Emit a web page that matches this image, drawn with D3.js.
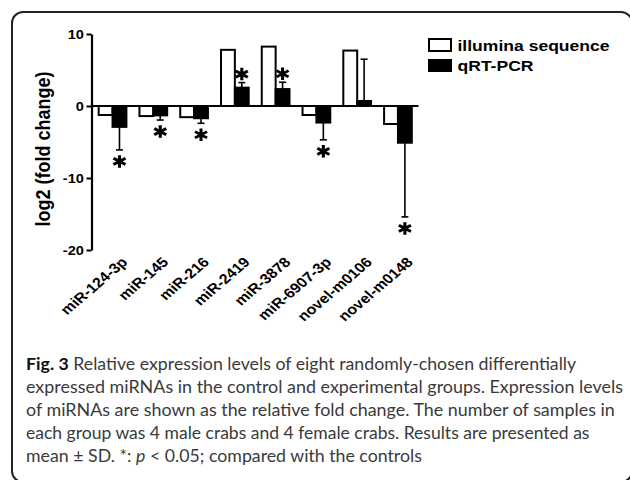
<!DOCTYPE html>
<html><head><meta charset="utf-8">
<script src="https://cdn.jsdelivr.net/npm/d3@7"></script>
<style>body{margin:0;background:#fff}svg{display:block}</style>
</head><body>
<svg id="c" width="630" height="480"></svg>
<script>
// ---- data ----
const categories = ["miR-124-3p","miR-145","miR-216","miR-2419","miR-3878","miR-6907-3p","novel-m0106","novel-m0148"];
const seriesNames = ["illumina sequence","qRT-PCR"];
const illuminaValues = [-1.25,-1.4,-1.55,7.8,8.25,-1.25,7.7,-2.5];
const qpcrValues = [-2.9,-1.3,-1.7,2.55,2.35,-2.3,0.7,-5.1];
const qpcrSD = [3.2,0.65,0.7,0.7,0.95,2.4,5.8,10.3];
const significant = [true,true,true,true,true,true,false,true];
const yTicks = [10,0,-10,-20];
const yLabel = "log2 (fold change)";
const captionLines = [
  [{t:"Fig. 3", b:true},{t:" Relative expression levels of eight randomly-chosen differentially"}],
  [{t:"expressed miRNAs in the control and experimental groups. Expression levels"}],
  [{t:"of miRNAs are shown as the relative fold change. The number of samples in"}],
  [{t:"each group was 4 male crabs and 4 female crabs. Results are presented as"}],
  [{t:"mean \u00b1 SD. *: "},{t:"p", i:true},{t:" < 0.05; compared with the controls"}]
];

// ---- layout ----
const SX = 1.17;                 // horizontal stretch of the original figure
const svg = d3.select("#c");
const chartFont = "'Liberation Sans', Arial, Helvetica, sans-serif";

// frame
svg.append("rect").attr("x",12).attr("y",12).attr("width",620).attr("height",470)
  .attr("rx",11).attr("fill","none").attr("stroke","#222").attr("stroke-width",2);

const x0 = d3.scaleBand().domain(categories).range([91.5, 419]).paddingInner(0.32).paddingOuter(0.176);
const x1 = d3.scaleBand().domain(seriesNames).range([0, x0.bandwidth()]);
const y = d3.scaleLinear().domain([-20, 10]).range([250, 34]);

const data = categories.map((c,i)=>({cat:c, ill:illuminaValues[i], q:qpcrValues[i], sd:qpcrSD[i], sig:significant[i]}));

// bars
const g = svg.append("g");
const grp = g.selectAll("g.grp").data(data).join("g").attr("class","grp")
  .attr("transform", d=>`translate(${x0(d.cat)},0)`);
grp.append("rect")
  .attr("x", x1(seriesNames[0]))
  .attr("y", d=>Math.min(y(d.ill), y(0)))
  .attr("width", x1.bandwidth())
  .attr("height", d=>Math.abs(y(d.ill)-y(0)))
  .attr("fill","#fff").attr("stroke","#000").attr("stroke-width",2);
grp.append("rect")
  .attr("x", x1(seriesNames[1]))
  .attr("y", d=>Math.min(y(d.q), y(0)))
  .attr("width", x1.bandwidth())
  .attr("height", d=>Math.abs(y(d.q)-y(0)))
  .attr("fill","#000").attr("stroke","#000").attr("stroke-width",2);

// error bars (one-sided, away from zero)
const ex = x1(seriesNames[1]) + x1.bandwidth()/2;
const errEnd = d => d.q + (d.q < 0 ? -d.sd : d.sd);
grp.append("line").attr("x1",ex).attr("x2",ex)
  .attr("y1", d=>y(d.q)).attr("y2", d=>y(errEnd(d)))
  .attr("stroke","#000").attr("stroke-width",1.6);
grp.append("line").attr("x1",ex-3.5).attr("x2",ex+3.5)
  .attr("y1", d=>y(errEnd(d))).attr("y2", d=>y(errEnd(d)))
  .attr("stroke","#000").attr("stroke-width",1.6);

// significance asterisks
const astY = d => d.q < 0 ? y(errEnd(d)) + 11.5 : y(errEnd(d)) - 8.5;
if (d3.symbolAsterisk) {
  grp.filter(d=>d.sig).append("path")
    .attr("d", d3.symbol(d3.symbolAsterisk, 110))
    .attr("transform", d=>`translate(${ex},${astY(d)}) scale(${SX*0.95},1)`)
    .attr("fill","none").attr("stroke","#000").attr("stroke-width",2.8);
} else {
  grp.filter(d=>d.sig).append("text").text("*")
    .attr("transform", d=>`translate(${ex},${astY(d)+14}) scale(${SX},1)`)
    .attr("text-anchor","middle").attr("font-family",chartFont).attr("font-weight","bold").attr("font-size",30);
}

// y axis
const yAxis = svg.append("g").attr("transform","translate(91.5,0)")
  .call(d3.axisLeft(y).tickValues(yTicks).tickSize(5).tickSizeOuter(0).tickFormat(d => String(d)));
yAxis.select(".domain").attr("stroke","#000").attr("stroke-width",2.2);
yAxis.selectAll(".tick line").attr("stroke","#000").attr("stroke-width",2);
yAxis.selectAll(".tick text")
  .attr("x",null).attr("dy",null)
  .attr("transform",`translate(-7.5,4.5) scale(${SX},1)`)
  .attr("text-anchor","end").attr("fill","#000")
  .attr("font-family",chartFont).attr("font-weight","bold").attr("font-size",12.5);

// x axis at zero
const xAxis = svg.append("g").attr("transform",`translate(0,${y(0)})`)
  .call(d3.axisBottom(x0).tickSize(0).tickSizeOuter(0));
xAxis.select(".domain").attr("stroke","#000").attr("stroke-width",2.2)
  .attr("d", `M91.5,0H418.5`);
xAxis.selectAll(".tick text")
  .attr("y",null).attr("dy",null)
  .attr("transform",`translate(16,${263 - y(0)}) scale(${SX},1) rotate(-45)`)
  .attr("text-anchor","end").attr("fill","#000")
  .attr("font-family",chartFont).attr("font-weight","bold").attr("font-size",13.8);

// y label
svg.append("text").text(yLabel)
  .attr("transform",`translate(49.5,149) scale(${SX},1) rotate(-90)`)
  .attr("text-anchor","middle").attr("font-family",chartFont).attr("font-weight","bold").attr("font-size",18);

// legend
const leg = svg.append("g");
const legRows = [{name:seriesNames[0], fill:"#fff", ry:39, rh:12, ty:50.5},
                 {name:seriesNames[1], fill:"#000", ry:60, rh:11, ty:71}];
leg.selectAll("rect").data(legRows).join("rect")
  .attr("x",429).attr("y",d=>d.ry).attr("width",22).attr("height",d=>d.rh)
  .attr("fill",d=>d.fill).attr("stroke","#000").attr("stroke-width",2);
leg.selectAll("text").data(legRows).join("text").text(d=>d.name)
  .attr("transform",d=>`translate(457.5,${d.ty}) scale(${SX},1)`)
  .attr("font-family",chartFont).attr("font-weight","bold").attr("font-size",15);

// caption
const capTargets = [551, 597, 589, 564, 396];
const capFont = "Lato, 'Open Sans', sans-serif";
captionLines.forEach((segs, i) => {
  const by = 370 + 22.9*i;
  const t = svg.append("text").attr("font-family",capFont).attr("font-size",16.5).attr("fill","#3a3a3a")
    .attr("transform",`translate(26,${by})`).style("white-space","pre");
  segs.forEach(s => {
    const ts = t.append("tspan").text(s.t);
    if (s.b) ts.attr("font-weight","bold").attr("fill","#111");
    if (s.i) ts.attr("font-style","italic");
  });
  const w = t.node().getBBox().width;
  t.attr("transform",`translate(26,${by}) scale(${capTargets[i]/w},1)`);
});
</script>
</body></html>
